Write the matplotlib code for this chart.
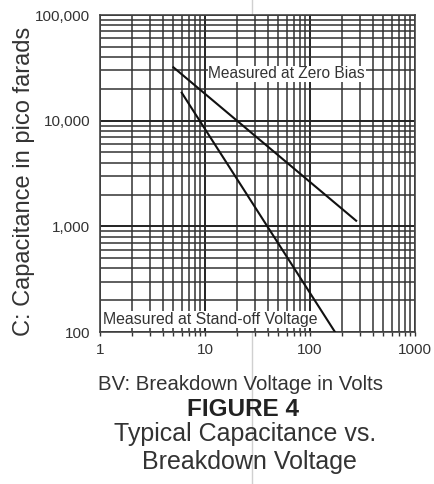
import matplotlib
matplotlib.use("Agg")
import matplotlib.pyplot as plt
from matplotlib.ticker import FixedLocator, NullFormatter, FixedFormatter

plt.rcParams['font.family'] = ['Liberation Sans', 'DejaVu Sans']

# Data
zero_bias_v = [5.0, 275.0]
zero_bias_c = [32000.0, 1130.0]
standoff_v = [6.0, 173.0]
standoff_c = [18400.0, 100.0]

x_ticks = [1, 10, 100, 1000]
x_tick_labels = ["1", "10", "100", "1000"]
y_ticks = [100, 1000, 10000, 100000]
y_tick_labels = ["100", "1,000", "10,000", "100,000"]

fig = plt.figure(figsize=(4.35, 4.84), dpi=100)

# faint vertical scan line seen across the reference
fig.add_artist(plt.Line2D([252/435, 252/435], [0, 1], transform=fig.transFigure,
                          color='#d0d0d0', lw=1, zorder=0))

ax = fig.add_axes([100/435, 1-332/484, 315/435, 317/484])
ax.set_xscale('log')
ax.set_yscale('log')
ax.set_xlim(1, 1000)
ax.set_ylim(100, 100000)

ax.xaxis.set_major_locator(FixedLocator(x_ticks))
ax.xaxis.set_major_formatter(FixedFormatter(x_tick_labels))
ax.yaxis.set_major_locator(FixedLocator(y_ticks))
ax.yaxis.set_major_formatter(FixedFormatter(y_tick_labels))
xminor = [m * d for d in (1, 10, 100) for m in range(2, 10)]
yminor = [m * d for d in (100, 1000, 10000) for m in range(2, 10)]
ax.xaxis.set_minor_locator(FixedLocator(xminor))
ax.yaxis.set_minor_locator(FixedLocator(yminor))
ax.xaxis.set_minor_formatter(NullFormatter())
ax.yaxis.set_minor_formatter(NullFormatter())

ax.grid(True, which='major', color='#222222', lw=1.4)
ax.grid(True, which='minor', color='#333333', lw=1.1)
ax.set_axisbelow(True)

ax.tick_params(axis='x', which='both', direction='out', length=3, width=1, color='#333333',
               labelsize=11, labelcolor='#333333', pad=5)
ax.tick_params(axis='y', which='both', length=0, labelsize=11, labelcolor='#333333', pad=7)
for s in ax.spines.values():
    s.set_color('#444444')
    s.set_linewidth(1.2)

ax.plot(zero_bias_v, zero_bias_c, color='#111111', lw=1.5, zorder=3)
ax.plot(standoff_v, standoff_c, color='#111111', lw=1.5, zorder=3)

ax.text(60, 27700, "Measured at Zero Bias", ha='center', va='center', fontsize=11.2,
        color='#333333', zorder=4,
        bbox=dict(boxstyle='square,pad=0.05', fc='white', ec='none'))
ax.text(1.07, 131, "Measured at Stand-off Voltage", ha='left', va='center', fontsize=11.4,
        color='#333333', zorder=4,
        bbox=dict(boxstyle='square,pad=0.05', fc='white', ec='none'))

fig.text(24/435, 1-181/484, "C: Capacitance in pico farads", ha='center', va='center',
         rotation=90, fontsize=17, color='#333333')
fig.text(241/435, 1-384/484, "BV: Breakdown Voltage in Volts", ha='center', va='center',
         fontsize=14.7, color='#333333')
fig.text(243/435, 1-409/484, "FIGURE 4", ha='center', va='center',
         fontsize=17.5, fontweight='bold', color='#222222')
fig.text(245/435, 1-434/484, "Typical Capacitance vs.", ha='center', va='center',
         fontsize=18, color='#333333')
fig.text(249/435, 1-462/484, "Breakdown Voltage", ha='center', va='center',
         fontsize=18, color='#333333')

fig.savefig("out.png", dpi=100, facecolor='white')
